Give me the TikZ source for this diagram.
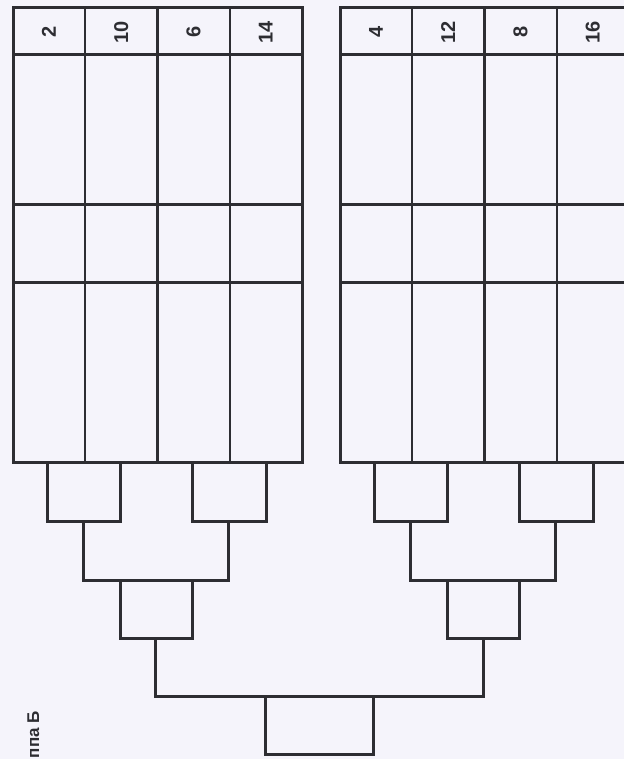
\documentclass[tikz,border=0pt]{standalone}
\usepackage{fontspec}
\setmainfont{Liberation Sans}
\definecolor{paper}{RGB}{245,244,251}
\definecolor{ink}{RGB}{45,45,50}

\begin{document}
\begin{tikzpicture}[x=1bp,y=-1bp]
  \def\ttop{8}      % table top
  \def\thead{55}    % header bottom
  \def\trowa{204}   % first rule
  \def\trowb{282}   % second rule
  \def\tbot{462}    % table bottom
  \def\lone{521}    % round 1 bottom
  \def\ltwo{580}    % round 2 bottom
  \def\lthree{638}  % round 3 bottom
  \def\lfour{696}   % round 4 bottom
  \def\lfin{754}    % final bottom

  \tikzstyle{thickline}=[ink,line width=3bp]
  \tikzstyle{thinline}=[ink,line width=1.8bp]
  \tikzstyle{bline}=[ink,line width=3bp]
  \tikzstyle{seed}=[rotate=90,inner sep=0pt,text=ink,
    font=\bfseries\fontsize{20bp}{20bp}\selectfont]
  \tikzstyle{grouplabel}=[rotate=90,inner sep=0pt,text=ink,
    font=\bfseries\fontsize{17bp}{17bp}\selectfont]
  \def\match#1#2#3#4{\draw[bline] (#1,#3) -- (#1,#4) -- (#2,#4) -- (#2,#3)}

  \fill[paper] (0,0) rectangle (624,759);
  \useasboundingbox (0,0) rectangle (624,759);
  \clip (0,0) rectangle (624,759);

  % LEFT HALF
  \begin{scope}
    \draw[thinline] (85.25,\ttop) -- (85.25,\tbot);
    \draw[thinline] (229.75,\ttop) -- (229.75,\tbot);
    \draw[thickline] (157.5,\ttop) -- (157.5,\tbot);
    \draw[thickline] (13,\thead) -- (302,\thead);
    \draw[thickline] (13,\trowa) -- (302,\trowa);
    \draw[thickline] (13,\trowb) -- (302,\trowb);
    \draw[thickline] (13,\ttop) rectangle (302,\tbot);
    \foreach \s [count=\i from 0] in {2,10,6,14}
      \node[seed] (s\s) at (49+72.25*\i,32) {\s};
    \match{47}{120}{\tbot}{\lone};
    \match{192}{266}{\tbot}{\lone};
    \match{83}{228}{\lone}{\ltwo};
    \match{120}{192}{\ltwo}{\lthree};
  \end{scope}

  % RIGHT HALF
  \begin{scope}[shift={(327,0)}]
    \draw[thinline] (85.25,\ttop) -- (85.25,\tbot);
    \draw[thinline] (229.75,\ttop) -- (229.75,\tbot);
    \draw[thickline] (157.5,\ttop) -- (157.5,\tbot);
    \draw[thickline] (13,\thead) -- (302,\thead);
    \draw[thickline] (13,\trowa) -- (302,\trowa);
    \draw[thickline] (13,\trowb) -- (302,\trowb);
    \draw[thickline] (13,\ttop) rectangle (302,\tbot);
    \foreach \s [count=\i from 0] in {4,12,8,16}
      \node[seed] (s\s) at (49+72.25*\i,32) {\s};
    \match{47}{120}{\tbot}{\lone};
    \match{192}{266}{\tbot}{\lone};
    \match{83}{228}{\lone}{\ltwo};
    \match{120}{192}{\ltwo}{\lthree};
  \end{scope}

  % SEMIFINAL AND FINAL
  \match{155}{483}{\lthree}{\lfour};
  \match{265}{373}{\lfour}{\lfin};

  \node[grouplabel,anchor=base east] (group) at (39,711) {ппа Б};
\end{tikzpicture}
\end{document}
